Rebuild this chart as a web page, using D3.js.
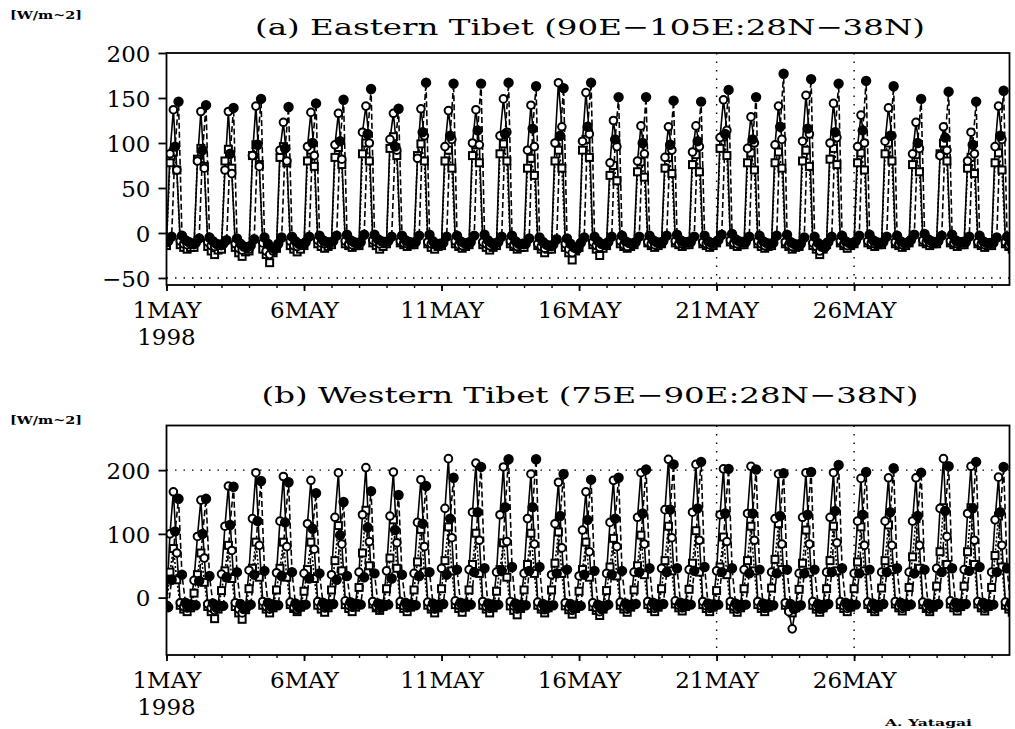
<!DOCTYPE html>
<html lang="en">
<head>
<meta charset="utf-8">
<title>Tibet surface flux, May 1998</title>
<script src="https://cdn.jsdelivr.net/npm/d3@7"></script>
<style>
  body { margin: 0; background: #fff; }
  svg text { font-family: "DejaVu Serif", "Liberation Serif", serif; fill: #000; }
</style>
</head>
<body>
<svg id="chart" width="1015" height="729"></svg>

<script>
// ticks along time axis (days after 1 May 00Z)
var dayTicks  = [0, 5, 10, 15, 20, 25];
var dayLabels = ["1MAY", "6MAY", "11MAY", "16MAY", "21MAY", "26MAY"];
var yearLabel = "1998";
// hours of the 3-hourly samples, one row of 8 per day
var hours = [0, 3, 6, 9, 12, 15, 18, 21];

// (a) Eastern Tibet  -- open circle series
var eastOpen = [
 -11, 88,137, 70, -9,-12,-13,-12,   -13, 80,135, 72,-10,-14,-15,-13,
 -14, 70,135, 66,-12,-17,-19,-16,   -18, 86,141, 74,-11,-20,-24,-20,
 -16, 92,123, 80, -9,-14,-15,-13,   -12, 96,134, 86, -8,-11,-12,-10,
 -10, 98,133, 82, -9,-12,-13,-11,   -12,112,141,100, -8,-10,-12,-10,
 -10,104,133, 92, -9,-11,-12,-10,   -11, 83,138,108,-10,-12,-13,-12,
 -12, 96,136,104, -9,-13,-14,-12,   -10,100,137, 98,-10,-12,-14,-12,
 -11,108,149,112, -9,-13,-15,-13,   -13, 92,142, 96,-12,-15,-17,-14,
 -15,100,167,118,-12,-18,-22,-17,   -14,102,156,110,-10,-14,-16,-13,
 -12, 78,125, 96, -9,-13,-15,-12,   -11, 80,119, 88,-10,-12,-13,-11,
 -10, 84,118, 92, -9,-12,-12,-10,   -11, 90,119, 96,-10,-12,-13,-11,
  -9,106,148,114, -8,-11,-12,-10,   -11, 94,129,100, -9,-12,-14,-12,
 -12, 98,141,104,-10,-13,-15,-13,   -13,102,153,110,-11,-15,-20,-16,
 -11,100,144,106, -9,-12,-14,-12,   -10, 96,131,100, -9,-11,-12,-11,
 -11,102,139,108,-10,-12,-13,-11,    -9, 88,123, 94, -8,-10,-11,-10,
 -10, 86,118, 92, -9,-11,-12,-10,   -11, 80,112, 88,-10,-12,-13,-11,
 -12, 96,141,104,-10,-13,-14,-12
];
// (a) filled circle series
var eastFilled = [
  -9, -4, 96,146, -3, -8,-10,-12,   -11, -6, 92,142, -5, -9,-12,-13,
 -12, -8, 88,139, -6,-12,-15,-16,   -14, -7, 98,149, -5,-12,-16,-18,
 -12, -5, 94,140, -4, -9,-12,-13,   -10, -4,100,144, -3, -8,-10,-11,
  -9, -3,102,148, -2, -8,-10,-11,   -10, -2,110,160, -2, -7, -9,-10,
  -9, -4, 96,138, -3, -8,-10,-11,   -10, -3,112,167, -2, -9,-12,-12,
 -11, -4,108,166, -3, -9,-11,-12,   -10, -3,114,166, -2, -8,-11,-12,
 -10, -4,110,167, -3, -9,-12,-12,   -12, -6,116,163, -5,-10,-13,-14,
 -13, -7,108,161, -6,-12,-16,-18,   -11, -5,118,167, -4, -9,-12,-13,
 -10, -4,104,151, -3, -9,-11,-12,   -10, -4,100,151, -3, -8,-10,-11,
  -9, -3, 98,147, -2, -8,-10,-10,   -10, -4,102,146, -3, -9,-11,-11,
  -8, -2,110,159, -1, -7, -9,-10,   -10, -4,104,151, -3, -9,-11,-12,
 -11, -3,118,177, -2,-10,-12,-13,   -12, -5,116,171, -4,-11,-15,-16,
 -10, -4,112,166, -3, -9,-11,-12,    -9, -3,114,169, -2, -8,-10,-11,
 -10, -4,108,163, -3, -9,-11,-11,    -8, -2,100,149, -1, -7, -9,-10,
  -9, -3,106,157, -2, -8,-10,-10,   -10, -4, 98,146, -3, -9,-11,-11,
 -11, -5,108,158, -4,-10,-12,-12
];
// (a) open square series
var eastSquare = [
 -14, 78, 90, 70,-13,-16,-18,-16,   -16, 82, 94, 74,-15,-20,-24,-19,
 -18, 80, 93, 72,-16,-22,-26,-21,   -20, 86, 98, 76,-18,-24,-33,-22,
 -17, 84, 96, 78,-14,-18,-21,-18,   -14, 80, 92, 74,-12,-15,-17,-15,
 -13, 84, 95, 76,-12,-14,-16,-14,   -14, 88,100, 80,-11,-14,-18,-15,
 -12, 94,107, 86,-11,-13,-15,-13,   -13, 86, 99, 80,-12,-16,-18,-15,
 -14, 80, 92, 72,-12,-15,-17,-15,   -13, 86, 98, 78,-13,-16,-19,-16,
 -14, 88, 99, 80,-12,-15,-18,-16,   -16, 72, 83, 64,-14,-18,-22,-18,
 -18, 80, 92, 72,-16,-22,-30,-20,   -16, 92,104, 84,-13,-18,-25,-17,
 -14, 64, 75, 58,-12,-15,-17,-15,   -13, 68, 79, 62,-11,-14,-16,-14,
 -12, 72, 84, 66,-11,-13,-15,-13,   -13, 76, 87, 68,-12,-14,-16,-14,
 -11, 94,107, 86,-10,-13,-15,-13,   -13, 78, 89, 70,-12,-15,-17,-15,
 -14, 78, 90, 72,-12,-15,-18,-16,   -15, 80, 92, 74,-14,-18,-24,-18,
 -13, 82, 94, 76,-11,-14,-17,-14,   -12, 78, 89, 70,-11,-13,-15,-13,
 -13, 88,100, 80,-12,-14,-16,-14,   -11, 76, 87, 68,-10,-12,-14,-12,
 -12, 88,100, 80,-11,-13,-15,-13,   -13, 72, 84, 66,-12,-14,-16,-14,
 -14, 78, 89, 70,-12,-15,-18,-20
];

// (b) Western Tibet -- open circle series
var westOpen = [
 -12,100,166, 70, -8,-14,-16,-10,    27, 96,153, 62,-10,-16,-20,-12,
  37,112,175, 74, -8,-18,-24,-14,    43,124,196, 82, -6,-14,-18,-10,
  39,120,190, 80, -7,-15,-19,-12,    38,116,184, 76, -6,-13,-16,-10,
  36,126,196, 84, -5,-12,-15, -9,    40,130,204, 88, -6,-14,-17,-10,
  42,128,197, 86, -6,-13,-16,-10,    38,118,185, 80, -7,-15,-18,-11,
  46,140,218, 94, -5,-12,-16, -9,    44,134,211, 90, -6,-14,-17,-10,
  40,130,205, 88, -6,-13,-18,-11,    38,124,194, 84, -7,-15,-19,-12,
  36,116,181, 78, -8,-15,-20,-12,    34,106,166, 72, -8,-16,-22,-13,
  38,118,184, 80, -7,-14,-18,-11,    40,126,196, 84, -6,-13,-17,-10,
  46,138,217, 94, -5,-12,-16, -9,    44,134,209, 90, -6,-13,-17,-10,
  42,130,202, 88, -6,-14,-18,-11,    44,132,206, 90, -6,-13,-17,-10,
  40,124,194, 84, -8,-22,-49,-16,    38,126,196, 84, -6,-14,-18,-11,
  40,126,196, 86, -6,-13,-17,-10,    38,120,187, 82, -7,-14,-18,-11,
  40,120,188, 82, -6,-13,-17,-10,    40,120,188, 82, -7,-14,-18,-11,
  46,140,218, 96, -5,-12,-16, -9,    44,132,206, 90, -6,-13,-17,-10,
  40,122,189, 82, -7,-14,-18,-11
];
// (b) filled circle series
var westFilled = [
 -15, 28,104,155, 36, -8,-14,-12,   -12, 26,100,155, 34, -9,-16,-13,
 -13, 32,114,174, 40,-10,-18,-14,   -11, 36,120,183, 42, -8,-15,-12,
 -12, 34,118,181, 40, -9,-16,-12,   -11, 30,108,164, 38, -8,-14,-11,
 -10, 28, 98,150, 34, -7,-13,-10,   -11, 32,110,167, 38, -9,-15,-12,
 -11, 30,106,161, 36, -8,-14,-11,   -12, 34,116,175, 40, -9,-16,-12,
 -10, 36,124,188, 44, -8,-14,-11,   -11, 40,134,205, 46, -9,-15,-12,
 -11, 42,142,217, 48, -9,-16,-12,   -12, 42,142,217, 48,-10,-17,-13,
 -12, 38,128,194, 44,-10,-17,-13,   -13, 36,122,185, 42,-11,-18,-14,
 -11, 36,124,188, 42, -9,-15,-12,   -10, 40,132,201, 46, -8,-14,-11,
 -10, 40,138,209, 46, -8,-14,-11,   -11, 42,140,213, 48, -9,-15,-12,
 -11, 40,132,202, 46, -9,-15,-12,   -11, 38,132,201, 44, -9,-16,-12,
 -12, 38,128,195, 44,-10,-18,-14,   -12, 38,130,197, 44,-10,-17,-13,
 -10, 40,136,208, 46, -8,-14,-11,   -11, 38,130,197, 44, -9,-15,-12,
 -10, 40,134,203, 46, -8,-14,-11,   -11, 38,128,196, 44, -9,-15,-12,
 -10, 40,136,206, 46, -8,-14,-11,   -10, 42,140,213, 48, -8,-14,-11,
 -11, 40,134,205, 46, -9,-15,-12
];
// (b) open square series
var westSquare = [
 -14, 40, 77, 28,-12,-18,-22,-16,     7, 36, 70, 24,-14,-22,-33,-18,
  11, 42, 82, 30,-14,-24,-34,-19,    14, 46, 87, 32,-12,-18,-24,-16,
  12, 46, 87, 32,-11,-17,-22,-15,    10, 44, 87, 30,-12,-18,-23,-16,
  12, 58,113, 42,-11,-17,-22,-15,    16, 70,137, 50,-10,-16,-20,-14,
  14, 62,122, 46,-11,-17,-22,-15,    12, 56,107, 40,-12,-18,-24,-16,
  14, 58,111, 42,-11,-17,-23,-15,    12, 52,101, 38,-12,-18,-24,-16,
  10, 44, 86, 32,-13,-20,-27,-17,    12, 52,101, 38,-12,-18,-24,-16,
  12, 54,103, 38,-13,-19,-26,-17,    10, 44, 87, 32,-14,-20,-28,-18,
  11, 48, 93, 34,-12,-18,-23,-15,    12, 50, 98, 36,-11,-17,-22,-15,
  14, 58,112, 42,-10,-16,-21,-14,    13, 54,105, 40,-11,-17,-22,-15,
  11, 48, 95, 36,-12,-18,-23,-16,    14, 58,112, 42,-11,-17,-22,-15,
  15, 60,116, 44,-12,-18,-24,-16,    13, 54,106, 40,-12,-18,-23,-16,
  14, 58,112, 42,-11,-17,-22,-15,    14, 56,111, 42,-11,-17,-22,-15,
  15, 58,114, 44,-10,-16,-21,-14,    16, 64,124, 46,-11,-17,-22,-15,
  18, 72,141, 52,-10,-16,-21,-14,    18, 72,141, 52,-10,-16,-21,-14,
  16, 66,128, 48,-12,-18,-23,-20
];

var eastTicks = [-50, 0, 50, 100, 150, 200];
var westTicks = [0, 100, 200];

/////////////////////
// layout
var svg = d3.select("#chart");
var left = 166.5, right = 1009.5;

var x = d3.scaleLinear()
    .domain([0, 30.65])
    .range([left, right]);

var panels = [
  { title: "(a) Eastern Tibet (90E\u2212105E:28N\u221238N)", titleY: 35, titleLen: 670,
    top: 53, bottom: 285, yDomain: [-57.8, 200], yTicks: eastTicks, gridY: -50, unitY: 19,
    series: [eastSquare, eastOpen, eastFilled] },
  { title: "(b) Western Tibet (75E\u221290E:28N\u221238N)", titleY: 403, titleLen: 657,
    top: 425.5, bottom: 655, yDomain: [-90, 270], yTicks: westTicks, gridY: 200, unitY: 424,
    series: [westSquare, westOpen, westFilled] }
];

// square: dotted, open circle: solid, filled circle: dashed (its samples sit 1.5h later)
var styles = [
  { mark: "square", dash: "2,2",  shift: 0 },
  { mark: "open",   dash: null,   shift: 0 },
  { mark: "filled", dash: "6,3",  shift: 1.5 }
];

panels.forEach(function(p, i) {
  var y = d3.scaleLinear().domain(p.yDomain).range([p.bottom, p.top]);
  var g = svg.append("g");

  svg.append("clipPath").attr("id", "clip" + i)
    .append("rect")
      .attr("x", left).attr("y", p.top)
      .attr("width", right - left).attr("height", p.bottom - p.top);

  // title and units
  g.append("text")
    .attr("x", 590).attr("y", p.titleY)
    .attr("text-anchor", "middle")
    .attr("font-size", 23)
    .attr("textLength", p.titleLen)
    .attr("lengthAdjust", "spacingAndGlyphs")
    .text(p.title);

  g.append("text")
    .attr("x", 10).attr("y", p.unitY)
    .attr("font-size", 11).attr("font-weight", "bold")
    .attr("textLength", 72).attr("lengthAdjust", "spacingAndGlyphs")
    .text("[W/m~2]");

  // dotted grid
  g.append("line")
    .attr("x1", left).attr("x2", right)
    .attr("y1", y(p.gridY)).attr("y2", y(p.gridY))
    .attr("stroke", "#000").attr("stroke-width", 1.4)
    .attr("stroke-dasharray", "1.5,7");

  g.selectAll(".vgrid").data([20, 25]).enter().append("line")
    .attr("x1", function(d) { return x(d); }).attr("x2", function(d) { return x(d); })
    .attr("y1", p.top).attr("y2", p.bottom)
    .attr("stroke", "#000").attr("stroke-width", 1.4)
    .attr("stroke-dasharray", "1.5,7");

  // data
  var plot = g.append("g").attr("clip-path", "url(#clip" + i + ")");
  var line = d3.line()
    .x(function(d) { return x(d.t); })
    .y(function(d) { return y(d.v); });

  var sets = p.series.map(function(vals, k) {
    var st = styles[k];
    return vals.map(function(v, j) {
      return { t: Math.floor(j / 8) + (hours[j % 8] + st.shift) / 24, v: v };
    });
  });

  sets.forEach(function(pts, k) {
    plot.append("path").datum(pts)
      .attr("d", line)
      .attr("fill", "none")
      .attr("stroke", "#000")
      .attr("stroke-width", 1.6)
      .attr("stroke-dasharray", styles[k].dash);
  });

  sets.forEach(function(pts, k) {
    var st = styles[k];
    if (st.mark == "square") {
      plot.selectAll(".sq").data(pts).enter().append("rect")
        .attr("x", function(d) { return x(d.t) - 3.5; })
        .attr("y", function(d) { return y(d.v) - 3.5; })
        .attr("width", 7).attr("height", 7)
        .attr("fill", "#fff").attr("stroke", "#000").attr("stroke-width", 2);
    } else {
      plot.selectAll(".c" + k).data(pts).enter().append("circle")
        .attr("cx", function(d) { return x(d.t); })
        .attr("cy", function(d) { return y(d.v); })
        .attr("r", st.mark == "open" ? 3.8 : 4.2)
        .attr("fill", st.mark == "open" ? "#fff" : "#000")
        .attr("stroke", "#000").attr("stroke-width", 2);
    }
  });

  // frame
  g.append("rect")
    .attr("x", left).attr("y", p.top)
    .attr("width", right - left).attr("height", p.bottom - p.top)
    .attr("fill", "none").attr("stroke", "#000").attr("stroke-width", 1.8);

  // y axis
  var yAxis = d3.axisLeft(y)
    .tickValues(p.yTicks)
    .tickSize(8).tickPadding(8)
    .tickFormat(function(d) { return d < 0 ? "\u2212" + Math.abs(d) : d; });
  var ya = g.append("g").attr("transform", "translate(" + left + ",0)").call(yAxis);
  ya.select(".domain").remove();
  ya.selectAll("line").attr("stroke-width", 1.8);
  ya.selectAll("text").attr("font-size", 23).attr("font-family", "DejaVu Serif")
    .attr("dy", "0.36em");

  // x axis: daily minor ticks, 5-day labels
  var minor = d3.axisBottom(x).ticks(30).tickSize(3).tickFormat("");
  var xm = g.append("g").attr("transform", "translate(0," + p.bottom + ")").call(minor);
  xm.select(".domain").remove();
  xm.selectAll("line").attr("stroke-width", 1.4);

  var xAxis = d3.axisBottom(x)
    .tickValues(dayTicks).tickSize(6)
    .tickFormat(function(d, j) { return dayLabels[j]; });
  var xa = g.append("g").attr("transform", "translate(0," + p.bottom + ")").call(xAxis);
  xa.select(".domain").remove();
  xa.selectAll("line").attr("stroke-width", 1.8);
  xa.selectAll("text").attr("font-size", 23).attr("font-family", "DejaVu Serif")
    .attr("y", 33).attr("dy", 0);

  g.append("text")
    .attr("x", x(0)).attr("y", p.bottom + 60)
    .attr("text-anchor", "middle")
    .attr("font-size", 23)
    .text(yearLabel);
});

svg.append("text")
  .attr("x", 885).attr("y", 726)
  .attr("font-size", 10).attr("font-weight", "bold")
  .attr("textLength", 87).attr("lengthAdjust", "spacingAndGlyphs")
  .text("A. Yatagai");
</script>
</body>
</html>
